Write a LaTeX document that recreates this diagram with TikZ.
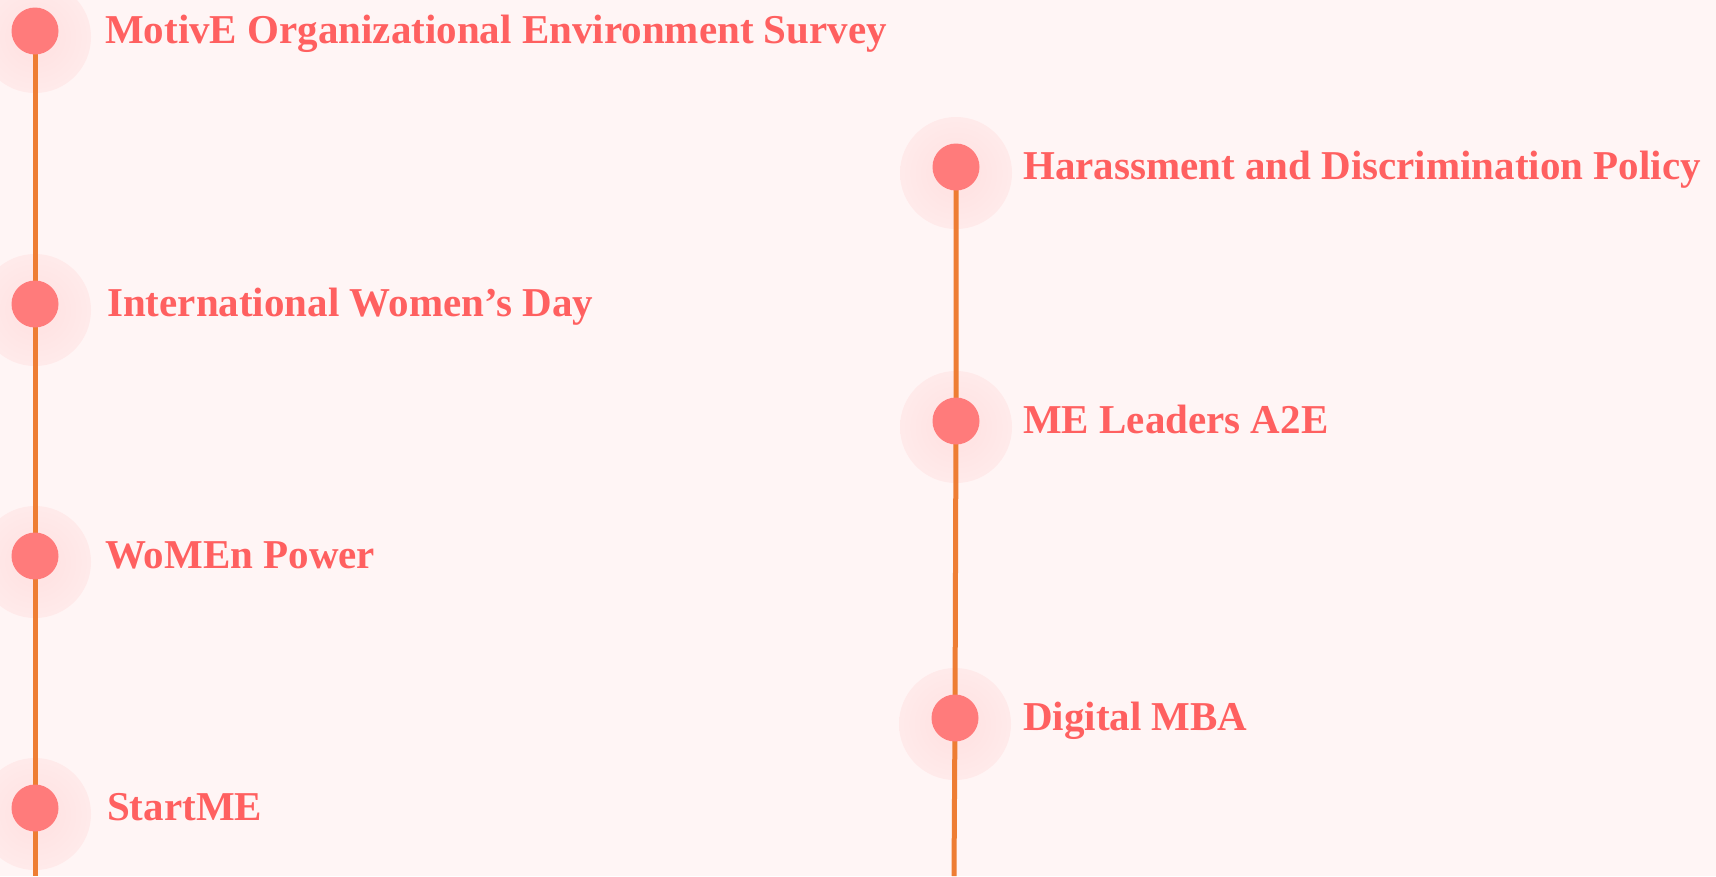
\documentclass[tikz,border=0pt]{standalone}
\usepackage{fontspec}
\setmainfont{Liberation Serif}
\definecolor{bg}{HTML}{FFF5F5}
\definecolor{dot}{HTML}{FF7B7B}
\definecolor{rail}{HTML}{EE7D33}
\definecolor{label}{HTML}{FF6060}
\definecolor{glow}{HTML}{FFE4E4}
\pgfdeclareradialshading{halo}{\pgfpoint{0bp}{0bp}}{color(0bp)=(glow); color(10bp)=(glow); color(50bp)=(bg)}
\tikzset{
  dotnode/.style={circle, fill=dot, minimum size=47pt, inner sep=0pt},
  railline/.style={draw=rail, line width=5pt},
  itemtext/.style={anchor=base west, text=label, inner sep=0pt,
    font=\fontsize{41}{48}\selectfont\bfseries},
}
\newcommand{\haloat}[1]{\shade[shading=halo] (#1) ++(0,6) circle (56);}
\begin{document}
\begin{tikzpicture}[x=1pt, y=-1pt]
  \fill[bg] (0,0) rectangle (1716,876);
  \useasboundingbox (0,0) rectangle (1716,876);

  % soft halos under the dots
  \haloat{35,31}
  \haloat{35,304}
  \haloat{35,556}
  \haloat{35,808}
  \haloat{956,167}
  \haloat{956,421}
  \haloat{955,718}

  % dot positions
  \coordinate (p1) at (35,31);
  \coordinate (p2) at (35,304);
  \coordinate (p3) at (35,556);
  \coordinate (p4) at (35,808);
  \coordinate (q1) at (956,167);
  \coordinate (q2) at (956,421);
  \coordinate (q3) at (955,718);
  \coordinate (cend) at (35,876);
  \coordinate (dend) at (954,876);

  % rails, drawn before the dots so the dots sit on top
  \path[railline] (p1) -- (p2) -- (p3) -- (p4) -- (cend);
  \path[railline] (q1) -- (q2) -- (q3) -- (dend);

  % dots
  \node[dotnode] (c1) at (p1) {};
  \node[dotnode] (c2) at (p2) {};
  \node[dotnode] (c3) at (p3) {};
  \node[dotnode] (c4) at (p4) {};
  \node[dotnode] (d1) at (q1) {};
  \node[dotnode] (d2) at (q2) {};
  \node[dotnode] (d3) at (q3) {};

  % labels
  \node[itemtext] (t1) at (105,43) {MotivE Organizational Environment Survey};
  \node[itemtext] (t2) at (107,316) {International Women’s Day};
  \node[itemtext] (t3) at (105,568) {WoMEn Power};
  \node[itemtext] (t4) at (107,820) {StartME};
  \node[itemtext] (u1) at (1023,179) {Harassment and Discrimination Policy};
  \node[itemtext] (u2) at (1023,433) {ME Leaders A2E};
  \node[itemtext] (u3) at (1023,730) {Digital MBA};
\end{tikzpicture}
\end{document}
